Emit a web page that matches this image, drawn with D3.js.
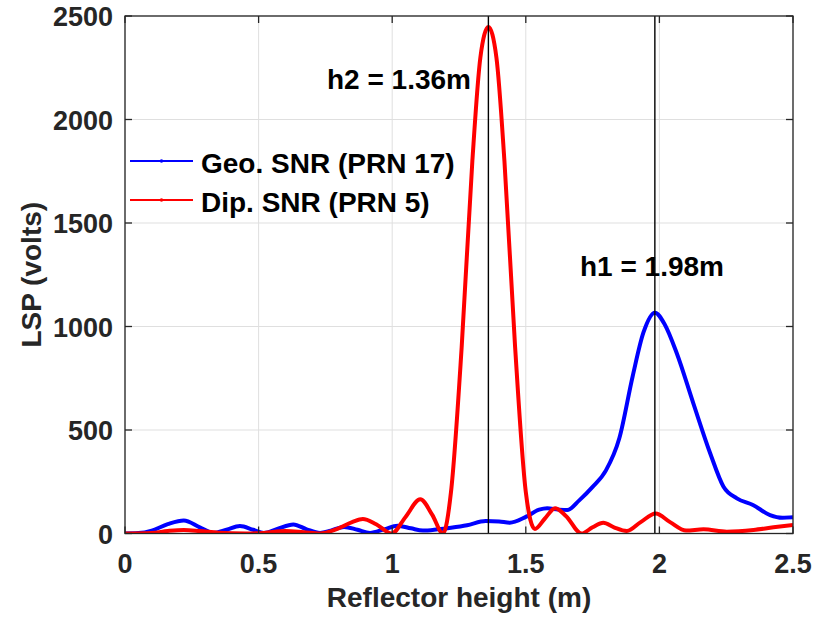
<!DOCTYPE html>
<html>
<head>
<meta charset="utf-8">
<script src="https://cdn.jsdelivr.net/npm/d3@7"></script>
<style>
  html, body { margin: 0; padding: 0; background: #fff; }
  svg { display: block; }
  text { font-family: "Liberation Sans", Arial, Helvetica, sans-serif; font-weight: bold; }
</style>
</head>
<body>
<svg id="chart" width="815" height="620"></svg>
<script>
// ---------- data ----------
const geoX = [0, 0.05, 0.10, 0.16, 0.22, 0.28, 0.33, 0.38, 0.43, 0.48, 0.52, 0.57, 0.63, 0.68, 0.73, 0.77, 0.82, 0.87, 0.917, 0.97, 1.02, 1.07, 1.115, 1.17, 1.22, 1.28, 1.35, 1.40, 1.44, 1.50, 1.55, 1.58, 1.62, 1.655, 1.70, 1.75, 1.80, 1.85, 1.90, 1.94, 1.983, 2.02, 2.065, 2.127, 2.19, 2.24, 2.29, 2.35, 2.414, 2.46, 2.5];
const geoY = [0, 2, 14, 45, 63, 30, 3, 18, 36, 18, 3, 22, 44, 20, 3, 14, 32, 18, 3, 20, 38, 25, 14, 20, 28, 40, 60, 58, 52, 80, 115, 122, 116, 113, 160, 225, 305, 460, 760, 970, 1067, 1010, 871, 629, 388, 226, 170, 138, 89, 76, 78];

const dipX = [0, 0.10, 0.16, 0.22, 0.28, 0.35, 0.45, 0.52, 0.60, 0.67, 0.73, 0.79, 0.85, 0.89, 0.94, 0.998, 1.05, 1.105, 1.15, 1.19, 1.22, 1.26, 1.30, 1.33, 1.36, 1.39, 1.42, 1.46, 1.50, 1.534, 1.57, 1.61, 1.65, 1.709, 1.75, 1.79, 1.83, 1.878, 1.93, 1.986, 2.04, 2.10, 2.165, 2.252, 2.352, 2.427, 2.5];
const dipY = [0, 3, 12, 17, 12, 4, 0, 3, 12, 6, 0, 20, 55, 70, 45, 0, 80, 165, 90, 0, 200, 900, 1800, 2300, 2447, 2300, 1800, 900, 200, 22, 70, 122, 85, 0, 30, 52, 30, 12, 55, 97, 55, 14, 20, 9, 17, 30, 41];

const xTicks = [0, 0.5, 1, 1.5, 2, 2.5];
const xTickLabels = ["0", "0.5", "1", "1.5", "2", "2.5"];
const yTicks = [0, 500, 1000, 1500, 2000, 2500];
const yTickLabels = ["0", "500", "1000", "1500", "2000", "2500"];

const seriesNames = ["Geo. SNR (PRN 17)", "Dip. SNR (PRN 5)"];
const seriesColors = ["#0000ff", "#ff0000"];

const peakX = [1.36, 1.983];
const peakLabels = ["h2 = 1.36m", "h1 = 1.98m"];

const xLabel = "Reflector height (m)";
const yLabel = "LSP (volts)";

// ---------- layout ----------
const L = 125, R = 793, T = 16, B = 533.5;
const svg = d3.select("#chart");

const x = d3.scaleLinear().domain([0, 2.5]).range([L, R]);
const y = d3.scaleLinear().domain([0, 2500]).range([B, T]);

// grid
const grid = svg.append("g");
grid.selectAll("line.gx").data(xTicks).join("line")
  .attr("x1", d => x(d)).attr("x2", d => x(d)).attr("y1", T).attr("y2", B)
  .attr("stroke", "#dfdfdf").attr("stroke-width", 1);
grid.selectAll("line.gy").data(yTicks).join("line")
  .attr("x1", L).attr("x2", R).attr("y1", d => y(d)).attr("y2", d => y(d))
  .attr("stroke", "#dfdfdf").attr("stroke-width", 1);

// clip
svg.append("clipPath").attr("id", "clip").append("rect")
  .attr("x", L).attr("y", T - 2).attr("width", R - L).attr("height", B - T + 2);

const plot = svg.append("g").attr("clip-path", "url(#clip)");
const line = d3.line().x(d => x(d[0])).y(d => y(d[1])).curve(d3.curveMonotoneX);

const geo = geoX.map((v, i) => [v, geoY[i]]);
const dip = dipX.map((v, i) => [v, dipY[i]]);

plot.append("path").datum(geo).attr("d", line)
  .attr("fill", "none").attr("stroke", seriesColors[0]).attr("stroke-width", 4)
  .attr("stroke-linejoin", "round");
plot.append("path").datum(dip).attr("d", line)
  .attr("fill", "none").attr("stroke", seriesColors[1]).attr("stroke-width", 4)
  .attr("stroke-linejoin", "round");

// peak vertical lines
svg.selectAll("line.peak").data(peakX).join("line")
  .attr("x1", d => x(d)).attr("x2", d => x(d)).attr("y1", T).attr("y2", B)
  .attr("stroke", "#000").attr("stroke-width", 1.4);

// annotation text
svg.append("text").attr("x", 327).attr("y", 89).attr("font-size", 28).attr("fill", "#000").text(peakLabels[0]);
svg.append("text").attr("x", 580).attr("y", 276).attr("font-size", 28).attr("fill", "#000").text(peakLabels[1]);

// legend
const leg = svg.append("g");
const legY = [161, 200];
seriesNames.forEach((name, i) => {
  leg.append("line").attr("x1", 130).attr("x2", 193).attr("y1", legY[i]).attr("y2", legY[i])
    .attr("stroke", seriesColors[i]).attr("stroke-width", 2.2);
  leg.append("circle").attr("cx", 161.5).attr("cy", legY[i]).attr("r", 1.8).attr("fill", seriesColors[i]);
  leg.append("text").attr("x", 201).attr("y", legY[i] + 12).attr("font-size", 28).attr("fill", "#000").text(name);
});

// axes box
const axisColor = "#262626";
svg.append("rect").attr("x", L).attr("y", T).attr("width", R - L).attr("height", B - T)
  .attr("fill", "none").attr("stroke", axisColor).attr("stroke-width", 1.3);

// ticks (inside, all four sides)
const tk = 7;
const ticks = svg.append("g").attr("stroke", axisColor).attr("stroke-width", 1.3);
xTicks.forEach(d => {
  ticks.append("line").attr("x1", x(d)).attr("x2", x(d)).attr("y1", B).attr("y2", B - tk);
  ticks.append("line").attr("x1", x(d)).attr("x2", x(d)).attr("y1", T).attr("y2", T + tk);
});
yTicks.forEach(d => {
  ticks.append("line").attr("x1", L).attr("x2", L + tk).attr("y1", y(d)).attr("y2", y(d));
  ticks.append("line").attr("x1", R).attr("x2", R - tk).attr("y1", y(d)).attr("y2", y(d));
});

// tick labels
svg.selectAll("text.xt").data(xTicks).join("text")
  .attr("x", d => x(d)).attr("y", 573).attr("text-anchor", "middle")
  .attr("font-size", 27).attr("fill", axisColor)
  .text((d, i) => xTickLabels[i]);
svg.selectAll("text.yt").data(yTicks).join("text")
  .attr("x", 113).attr("y", d => y(d) + 10).attr("text-anchor", "end")
  .attr("font-size", 27).attr("fill", axisColor)
  .text((d, i) => yTickLabels[i]);

// axis labels
svg.append("text").attr("x", (L + R) / 2).attr("y", 607).attr("text-anchor", "middle")
  .attr("font-size", 28).attr("fill", axisColor).text(xLabel);
svg.append("text").attr("transform", `translate(41,${(T + B) / 2}) rotate(-90)`)
  .attr("text-anchor", "middle").attr("font-size", 28).attr("fill", axisColor).text(yLabel);
</script>
</body>
</html>
